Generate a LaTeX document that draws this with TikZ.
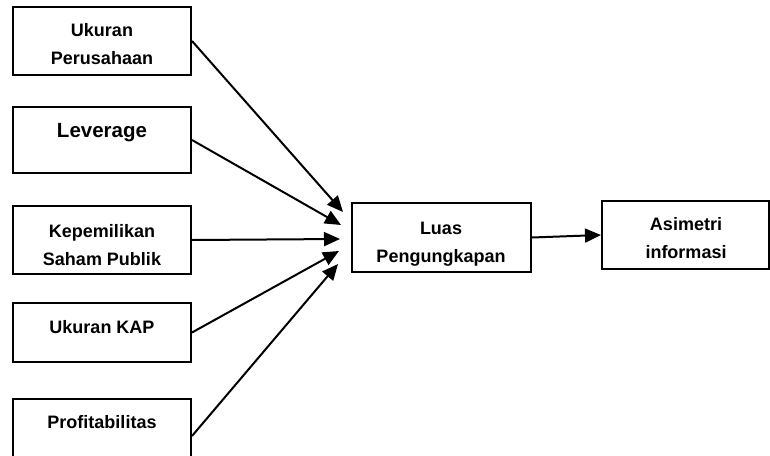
\documentclass[tikz,border=0pt]{standalone}
\usepackage{fontspec}
\setmainfont{Liberation Sans}
\usetikzlibrary{arrows.meta}

\begin{document}
\begin{tikzpicture}[x=1pt, y=-1pt,
	box/.style={draw, line width=2pt, inner sep=0pt, minimum width=178pt},
	txt/.style={font=\fontsize{18}{27.5}\selectfont\bfseries, align=center, anchor=base, inner sep=0pt},
	arr/.style={-{Triangle[length=16pt, width=14pt]}, line width=2pt}]
	\useasboundingbox (0, 0) rectangle (770, 455);
	\clip (0, 0) rectangle (770, 455);
	% boxes
	\node[box, minimum height=68pt] (ukuran) at (102, 41) {};
	\node[box, minimum height=66pt] (leverage) at (102, 140) {};
	\node[box, minimum height=68pt] (kepemilikan) at (102, 240) {};
	\node[box, minimum height=59pt] (kap) at (102, 332.5) {};
	\node[box, minimum height=80pt] (profit) at (102, 439) {};
	\node[box, minimum height=69pt, minimum width=179pt] (luas) at (441.5, 237.5) {};
	\node[box, minimum height=68pt, minimum width=167pt] (asimetri) at (685.5, 235) {};
	% texts (base = last line)
	\node[txt] (t-ukuran) at (102, 64) {Ukuran\\Perusahaan};
	\node[txt, font=\fontsize{20.5}{24}\selectfont\bfseries] (t-leverage) at (102, 137) {Leverage};
	\node[txt] (t-kepemilikan) at (102, 265) {Kepemilikan\\Saham Publik};
	\node[txt] (t-kap) at (102, 333) {Ukuran KAP};
	\node[txt] (t-profit) at (102, 428) {Profitabilitas};
	\node[txt] (t-luas) at (441, 262) {Luas\\Pengungkapan};
	\node[txt] (t-asimetri) at (686, 258) {Asimetri\\informasi};
	% arrows
	\coordinate (in1) at (343, 212);
	\coordinate (in2) at (341, 225);
	\coordinate (in3) at (340, 239);
	\coordinate (in4) at (339, 251);
	\coordinate (in5) at (338, 264);
	\draw[arr] (ukuran.east) -- (in1);
	\draw[arr] (leverage.east) -- (in2);
	\draw[arr] (kepemilikan.east) -- (in3);
	\draw[arr] (kap.east) -- (in4);
	\draw[arr] (profit.east) ++(0, -3) -- (in5);
	\draw[arr] (luas.east) -- (asimetri.west);
\end{tikzpicture}
\end{document}
